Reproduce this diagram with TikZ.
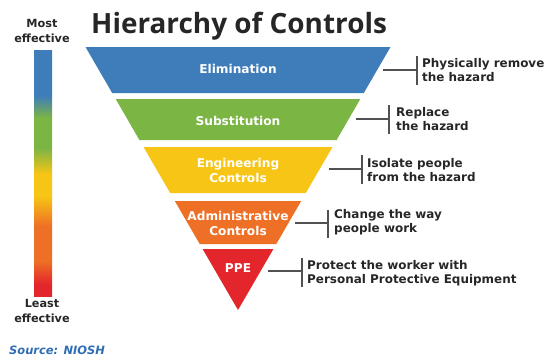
\documentclass[tikz,border=0pt]{standalone}
\usepackage{fontspec}
\setmainfont{DejaVu Sans}
\newfontfamily\titlefont{Open Sans}
\usetikzlibrary{calc}
\definecolor{elimblue}{HTML}{3F7DBA}
\definecolor{subgreen}{HTML}{7BB544}
\definecolor{enyellow}{HTML}{F6C515}
\definecolor{admorange}{HTML}{EE7026}
\definecolor{ppered}{HTML}{E3262B}
\definecolor{srcblue}{HTML}{2F6EB5}
\definecolor{txtgray}{HTML}{262626}
\pgfdeclareverticalshading{effbar}{100bp}{
  color(0bp)=(ppered); color(27.4bp)=(ppered); color(32.1bp)=(admorange); color(39.2bp)=(admorange);
  color(45.3bp)=(enyellow); color(49.8bp)=(enyellow); color(55.1bp)=(subgreen); color(61.2bp)=(subgreen);
  color(65.7bp)=(elimblue); color(100bp)=(elimblue)}
\tikzset{
  bandtext/.style={text=white, font=\bfseries\fontsize{12.2}{15}\selectfont, align=center, inner sep=0pt},
  note/.style={text=txtgray, font=\bfseries\fontsize{12}{14.5}\selectfont, align=left, anchor=west, inner sep=0pt},
  bracket/.style={draw=txtgray!80, line width=1.3pt},
  side/.style={text=txtgray, font=\bfseries\fontsize{11.3}{15}\selectfont, align=center, inner sep=0pt}
}
\begin{document}
\begin{tikzpicture}[x=1bp, y=-1bp]
\useasboundingbox (0,0) rectangle (546,358);
% title
\node[anchor=base west, inner sep=0pt, text=txtgray, font=\titlefont\bfseries\fontsize{28}{32}\selectfont] (title) at (91,33) {Hierarchy of Controls};
% side gradient bar
\node[side] (most) at (42,31) {Most\\effective};
\shade[shading=effbar] (34,50) rectangle (52,296);
\node[side] (least) at (42,311) {Least\\effective};
\node[anchor=base west, inner sep=0pt, text=srcblue, font=\bfseries\itshape\fontsize{11.5}{12}\selectfont] (src) at (9,354) {Source: NIOSH};
% bands
\fill[elimblue] (85.5,47) -- (390.5,47) -- (363.8,93) -- (112.2,93) -- cycle;
\fill[subgreen] (115.7,99) -- (360.3,99) -- (336.6,140) -- (139.4,140) -- cycle;
\fill[enyellow] (143.5,147) -- (332.5,147) -- (305.8,193) -- (170.2,193) -- cycle;
\fill[admorange] (174.8,201) -- (301.2,201) -- (276.3,244) -- (199.7,244) -- cycle;
\fill[ppered] (202.6,249) -- (273.4,249) -- (238,310) -- cycle;
\node[bandtext] (elim) at (238,69) {Elimination};
\node[bandtext] (subs) at (238,121) {Substitution};
\node[bandtext] (eng) at (238,170) {Engineering\\Controls};
\node[bandtext] (adm) at (238,223) {Administrative\\Controls};
\node[bandtext] (ppe) at (238,268) {PPE};
% brackets
\coordinate (e1) at (383,70); \coordinate (e2) at (417,70);
\draw[bracket] (e1) -- (e2); \draw[bracket] (417,56) -- (417,85);
\node[note] (ne) at (422,70) {Physically remove\\the hazard};
\coordinate (s1) at (356,119); \coordinate (s2) at (389,119);
\draw[bracket] (s1) -- (s2); \draw[bracket] (389,105) -- (389,134);
\node[note] (ns) at (396,119) {Replace\\the hazard};
\coordinate (g1) at (329,169); \coordinate (g2) at (362,169);
\draw[bracket] (g1) -- (g2); \draw[bracket] (362,155) -- (362,184);
\node[note] (ng) at (367,170) {Isolate people\\from the hazard};
\coordinate (a1) at (295,223); \coordinate (a2) at (328,223);
\draw[bracket] (a1) -- (a2); \draw[bracket] (328,210) -- (328,238);
\node[note] (na) at (334,222) {Change the way\\people work};
\coordinate (p1) at (268,271); \coordinate (p2) at (302,271);
\draw[bracket] (p1) -- (p2); \draw[bracket] (302,258) -- (302,287);
\node[note] (np) at (307,273) {Protect the worker with\\Personal Protective Equipment};
\end{tikzpicture}
\end{document}
